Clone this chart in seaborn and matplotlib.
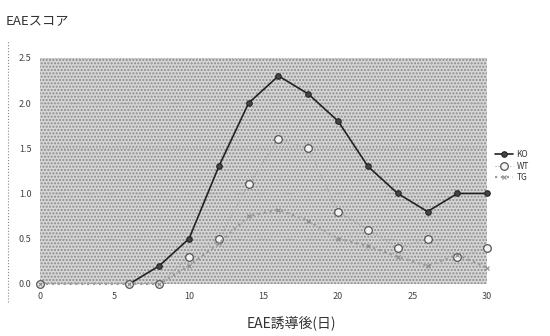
import matplotlib
matplotlib.use("Agg")
import matplotlib.pyplot as plt
from matplotlib.patches import Rectangle
import seaborn as sns
import pandas as pd

days = [0, 6, 8, 10, 12, 14, 16, 18, 20, 22, 24, 26, 28, 30]
ko = [None, 0.0, 0.2, 0.5, 1.3, 2.0, 2.3, 2.1, 1.8, 1.3, 1.0, 0.8, 1.0, 1.0]
wt = [0.0, 0.0, 0.0, 0.3, 0.5, 1.1, 1.6, 1.5, 0.8, 0.6, 0.4, 0.5, 0.3, 0.4]
tg = [0.0, 0.0, 0.0, 0.2, 0.45, 0.75, 0.82, 0.7, 0.5, 0.42, 0.3, 0.2, 0.32, 0.18]
series = ["KO", "WT", "TG"]
xticks = [0, 5, 10, 15, 20, 25, 30]
yticks = [0.0, 0.5, 1.0, 1.5, 2.0, 2.5]

sns.set_theme(style="white")
plt.rcParams['font.family'] = ['Noto Sans CJK JP', 'DejaVu Sans']
plt.rcParams['hatch.color'] = '#8a8a8a'
plt.rcParams['hatch.linewidth'] = 1.0

rows = []
for name, vals in zip(series, [ko, wt, tg]):
    for d, v in zip(days, vals):
        if v is not None:
            rows.append({"day": d, "score": v, "group": name})
df = pd.DataFrame(rows)

fig = plt.figure(figsize=(5.5, 3.36), dpi=100)
ax = fig.add_axes([0.0727, 0.155, 0.813, 0.673])
ax.set_facecolor('#d6d6d6')
ax.add_patch(Rectangle((0, 0), 1, 1, transform=ax.transAxes, facecolor='none',
                       hatch='.....', edgecolor='#8a8a8a', linewidth=0, zorder=0))

styles = {
    "KO": dict(color='#222222', linestyle='-', linewidth=1.2, marker='o', markersize=4,
               markerfacecolor='#444444', markeredgecolor='#222222'),
    "WT": dict(color='#a8a8a8', linestyle=':', linewidth=0.8, marker='o', markersize=5.5,
               markerfacecolor='#f4f4f4', markeredgecolor='#555555', markeredgewidth=0.9),
    "TG": dict(color='#9c9c9c', linestyle=':', linewidth=1.6, marker='x', markersize=3.5,
               markeredgecolor='#8c8c8c', markeredgewidth=0.8),
}
for name in series:
    sub = df[df.group == name]
    sns.lineplot(data=sub, x="day", y="score", ax=ax, label=name, clip_on=False,
                 zorder=3, **styles[name])

for y in yticks[1:]:
    ax.axhline(y, color='#b0b0b0', linestyle=':', linewidth=0.8, zorder=1)

ax.set_xlim(0, 30)
ax.set_ylim(0, 2.5)
ax.set_xticks(xticks)
ax.set_yticks(yticks)
ax.set_xticklabels([str(t) for t in xticks])
ax.set_yticklabels([f"{t:.1f}" for t in yticks])
ax.tick_params(axis='both', length=0, labelsize=6.5, colors='#444444', pad=6)
for s in ax.spines.values():
    s.set_visible(False)
ax.set_xlabel("")
ax.set_ylabel("")

fig.text(0.01, 0.935, "EAEスコア", fontsize=9.5, color='#333333', ha='left', va='center')
fig.text(0.53, 0.04, "EAE誘導後(日)", fontsize=10, color='#333333', ha='center', va='center')

leg = ax.legend(loc='center left', bbox_to_anchor=(1.01, 0.52), frameon=False,
                fontsize=6, handlelength=2.2, labelspacing=0.3, handletextpad=0.4,
                borderaxespad=0)
for t in leg.get_texts():
    t.set_color('#333333')

fig.add_artist(plt.Line2D([0.015, 0.015], [0.1, 0.88], transform=fig.transFigure,
                          color='#888888', linestyle=':', linewidth=0.8))

fig.savefig("out.png", dpi=100)
